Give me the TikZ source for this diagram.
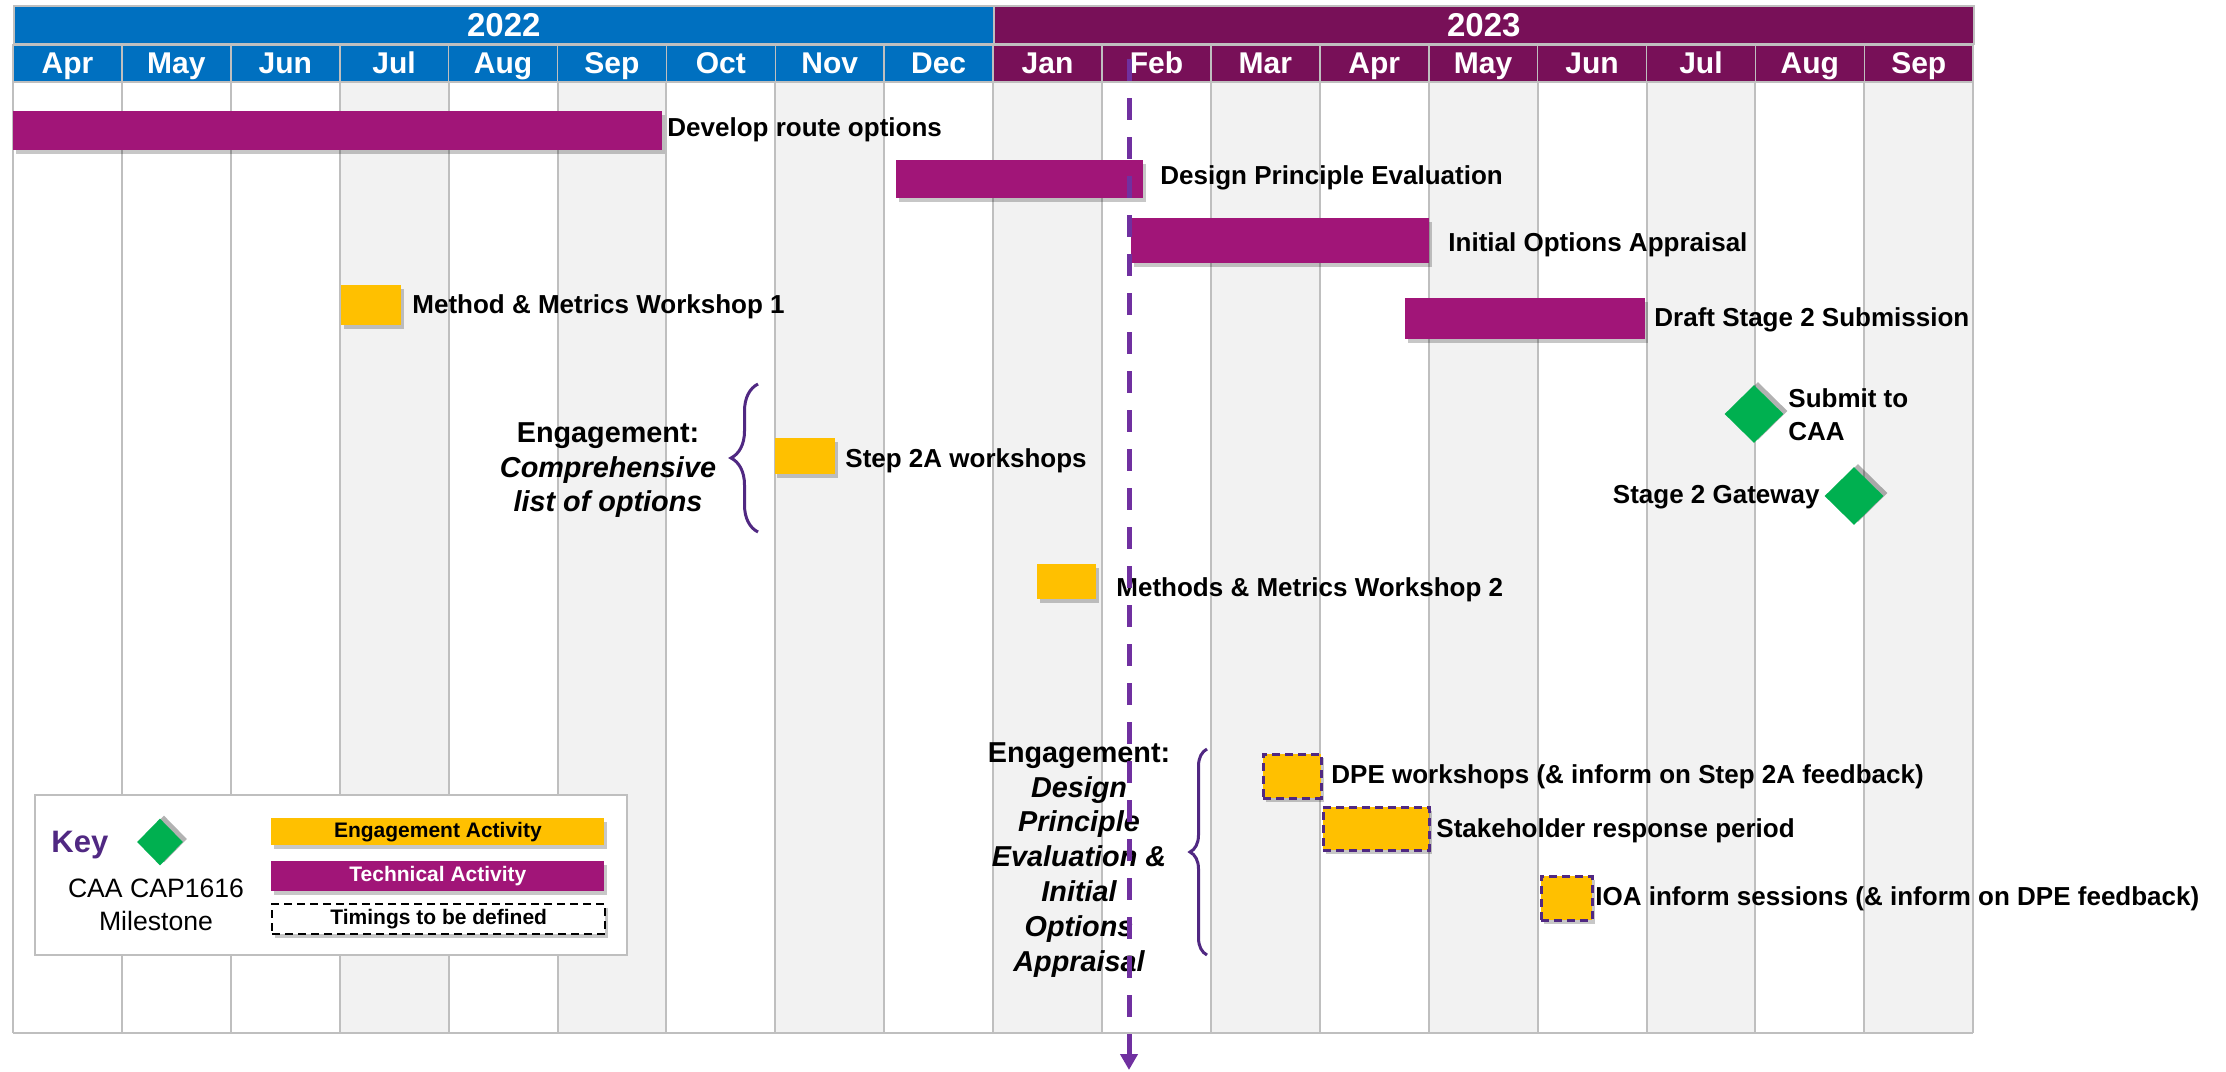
\documentclass[tikz,border=0pt]{standalone}
\usepackage{fontspec}
\setmainfont{Liberation Sans}
\usetikzlibrary{shapes.geometric,shadows,arrows.meta,decorations.pathreplacing}
\definecolor{hblue}{RGB}{0,112,192}
\definecolor{hpurp}{RGB}{120,16,88}
\definecolor{tech}{RGB}{161,21,120}
\definecolor{eng}{RGB}{255,192,0}
\definecolor{mile}{RGB}{0,176,80}
\definecolor{arrowp}{RGB}{112,48,160}
\definecolor{bracec}{RGB}{80,40,130}
\definecolor{colgray}{RGB}{242,242,242}
\definecolor{gridc}{RGB}{191,191,191}
\newcommand\ganttbox[6]{\node[#2, minimum width={(#5-#3)*0.5pt}, minimum height={(#6-#4)*0.5pt}] (#1) at (#3,#4) {};}
\begin{document}
\begin{tikzpicture}[x=0.5pt,y=-0.5pt,
  barshadow/.style={drop shadow={shadow xshift=1.2pt,shadow yshift=-2pt,opacity=0.22,fill=black}},
  techbar/.style={rectangle, fill=tech, inner sep=0pt, anchor=north west, barshadow},
  engbar/.style={rectangle, fill=eng, inner sep=0pt, anchor=north west, barshadow},
  tbdbar/.style={engbar, draw=bracec, line width=1.25pt, dash pattern=on 4pt off 2.5pt},
  lbl/.style={anchor=base west, inner sep=0pt, font=\fontsize{13}{16.5}\selectfont\bfseries},
  grp/.style={anchor=north, inner sep=0pt, align=center, font=\fontsize{14.4}{17.4}\selectfont\bfseries},
  milestone/.style={diamond, fill=mile, inner sep=0pt, minimum width=29.5pt, minimum height=29pt,
     drop shadow={shadow xshift=2pt,shadow yshift=1.5pt,opacity=0.3,fill=black}},
  yearbox/.style={rectangle, draw=gridc, line width=0.8pt, inner sep=0pt, anchor=north west,
     minimum width=490pt, minimum height=19pt, text=white, font=\fontsize{16.5}{18}\selectfont\bfseries},
  mon/.style={anchor=base, inner sep=0pt, text=white, font=\fontsize{15}{17}\selectfont\bfseries},
  gridline/.style={draw=gridc, line width=1pt},
  bracestyle/.style={draw=bracec, line width=1.5pt, decorate},
  dasharrow/.style={draw=arrowp, line width=2.5pt, dash pattern=on 11pt off 8.5pt, -{Triangle[width=8.5pt,length=8pt]}},
  keyframe/.style={rectangle, draw=gridc, line width=1pt, fill=white, inner sep=0pt, anchor=north west},
  legbar/.style={rectangle, inner sep=0pt, anchor=north west, minimum width=166.5pt, barshadow, font=\fontsize{10.5}{12}\selectfont\bfseries}
]
\useasboundingbox (0,0) rectangle (2226,1071);
% column backgrounds
\foreach \i in {3,5,7,9,11,13,15,17}
  \fill[colgray] ({13+108.9*\i},82) rectangle ({13+108.9*(\i+1)},1033);
\foreach \i in {0,...,18}
  \draw[gridline] ({13+108.9*\i},82) -- ({13+108.9*\i},1033);
\draw[gridline] (13,1033) -- (1973,1033);
% header
\node[yearbox, fill=hblue] (y2022) at (13,5) {2022};
\node[yearbox, fill=hpurp] (y2023) at (993,5) {2023};
\foreach \m [count=\j from 0] in {Apr,May,Jun,Jul,Aug,Sep,Oct,Nov,Dec,Jan,Feb,Mar,Apr,May,Jun,Jul,Aug,Sep} {
  \pgfmathsetmacro\xa{13+108.9*\j}
  \pgfmathsetmacro\xb{13+108.9*(\j+1)}
  \ifnum\j<9 \def\hc{hblue}\else\def\hc{hpurp}\fi
  \fill[\hc] (\xa,45) rectangle (\xb,82);
  \draw[draw=gridc, line width=0.8pt] (\xa,45) rectangle (\xb,82);
  \node[mon] (mon\j) at ({(\xa+\xb)/2},73.5) {\m};
}
% technical bars
\ganttbox{dev}{techbar}{13}{111}{662}{150}
\ganttbox{dpe}{techbar}{896}{160}{1143}{198}
\ganttbox{ioa}{techbar}{1131}{218}{1429}{263}
\ganttbox{draft}{techbar}{1405}{298}{1645}{339}
\node[lbl] (devt) at (667,136) {Develop route options};
\node[lbl] (dpet) at (1160,184) {Design Principle Evaluation};
\node[lbl] (ioat) at (1448,251) {Initial Options Appraisal};
\node[lbl] (draftt) at (1654,326) {Draft Stage 2 Submission};
% engagement boxes
\ganttbox{mm1}{engbar}{341}{285}{401}{325}
\ganttbox{s2a}{engbar}{774.5}{438}{835}{474}
\ganttbox{mm2}{engbar}{1037}{564}{1096}{599}
\ganttbox{dpew}{tbdbar}{1262}{753}{1320}{797}
\ganttbox{stake}{tbdbar}{1322}{806}{1428}{849}
\ganttbox{ioaw}{tbdbar}{1540}{875}{1591}{919}
\node[lbl] (mm1t) at (412,313) {Method \& Metrics Workshop 1};
\node[lbl] (s2at) at (845,467) {Step 2A workshops};
\node[lbl] (mm2t) at (1116,596) {Methods \& Metrics Workshop 2};
\node[lbl] (dpewt) at (1331,783) {DPE workshops (\& inform on Step 2A feedback)};
\node[lbl] (staket) at (1436,837) {Stakeholder response period};
\node[lbl] (ioawt) at (1595,905) {IOA inform sessions (\& inform on DPE feedback)};
% milestones
\node[milestone] (submit) at (1754,414) {};
\node[milestone] (gate) at (1854,496) {};
\node[lbl, anchor=north west, align=left] (submitt) at (1788,388) {Submit to\\CAA};
\node[lbl, anchor=base east] (gatet) at (1820,503) {Stage 2 Gateway};
% engagement groups
\node[grp] (grp1) at (608,422) {Engagement:\\\itshape Comprehensive\\\itshape list of options};
\draw[bracestyle, decoration={brace, amplitude=13.5pt}] (758,532) -- (758,384);
\node[grp] (grp2) at (1079,742) {Engagement:\\\itshape Design\\\itshape Principle\\\itshape Evaluation \&\\\itshape Initial\\\itshape Options\\\itshape Appraisal};
\draw[bracestyle, decoration={brace, amplitude=8.5pt}] (1207,955) -- (1207,749);
% key
\node[keyframe, minimum width=296.25pt, minimum height=80pt] (keybox) at (33.5,794) {};
\node[anchor=base west, inner sep=0pt, text=bracec, font=\fontsize{15.5}{18}\selectfont\bfseries] (keyt) at (51,852) {Key};
\node[milestone, minimum width=23pt, minimum height=23.5pt] (keydia) at (160,842) {};
\node[anchor=north, inner sep=0pt, align=center, font=\fontsize{13.3}{16.5}\selectfont] (keymile) at (156,879) {CAA CAP1616\\Milestone};
\node[legbar, fill=eng, minimum height=13.5pt] (legeng) at (271,818) {Engagement Activity};
\node[legbar, fill=tech, text=white, minimum height=15pt] (legtech) at (271,861) {Technical Activity};
\node[legbar, fill=white, draw=black, line width=1.2pt, dash pattern=on 4pt off 2.5pt, minimum height=15pt] (legtbd) at (271,903) {Timings to be defined};
% today line
\coordinate (arrTop) at (1129,59);
\coordinate (arrBot) at (1129,1070);
\draw[dasharrow] (arrTop) -- (arrBot);
\end{tikzpicture}
\end{document}
